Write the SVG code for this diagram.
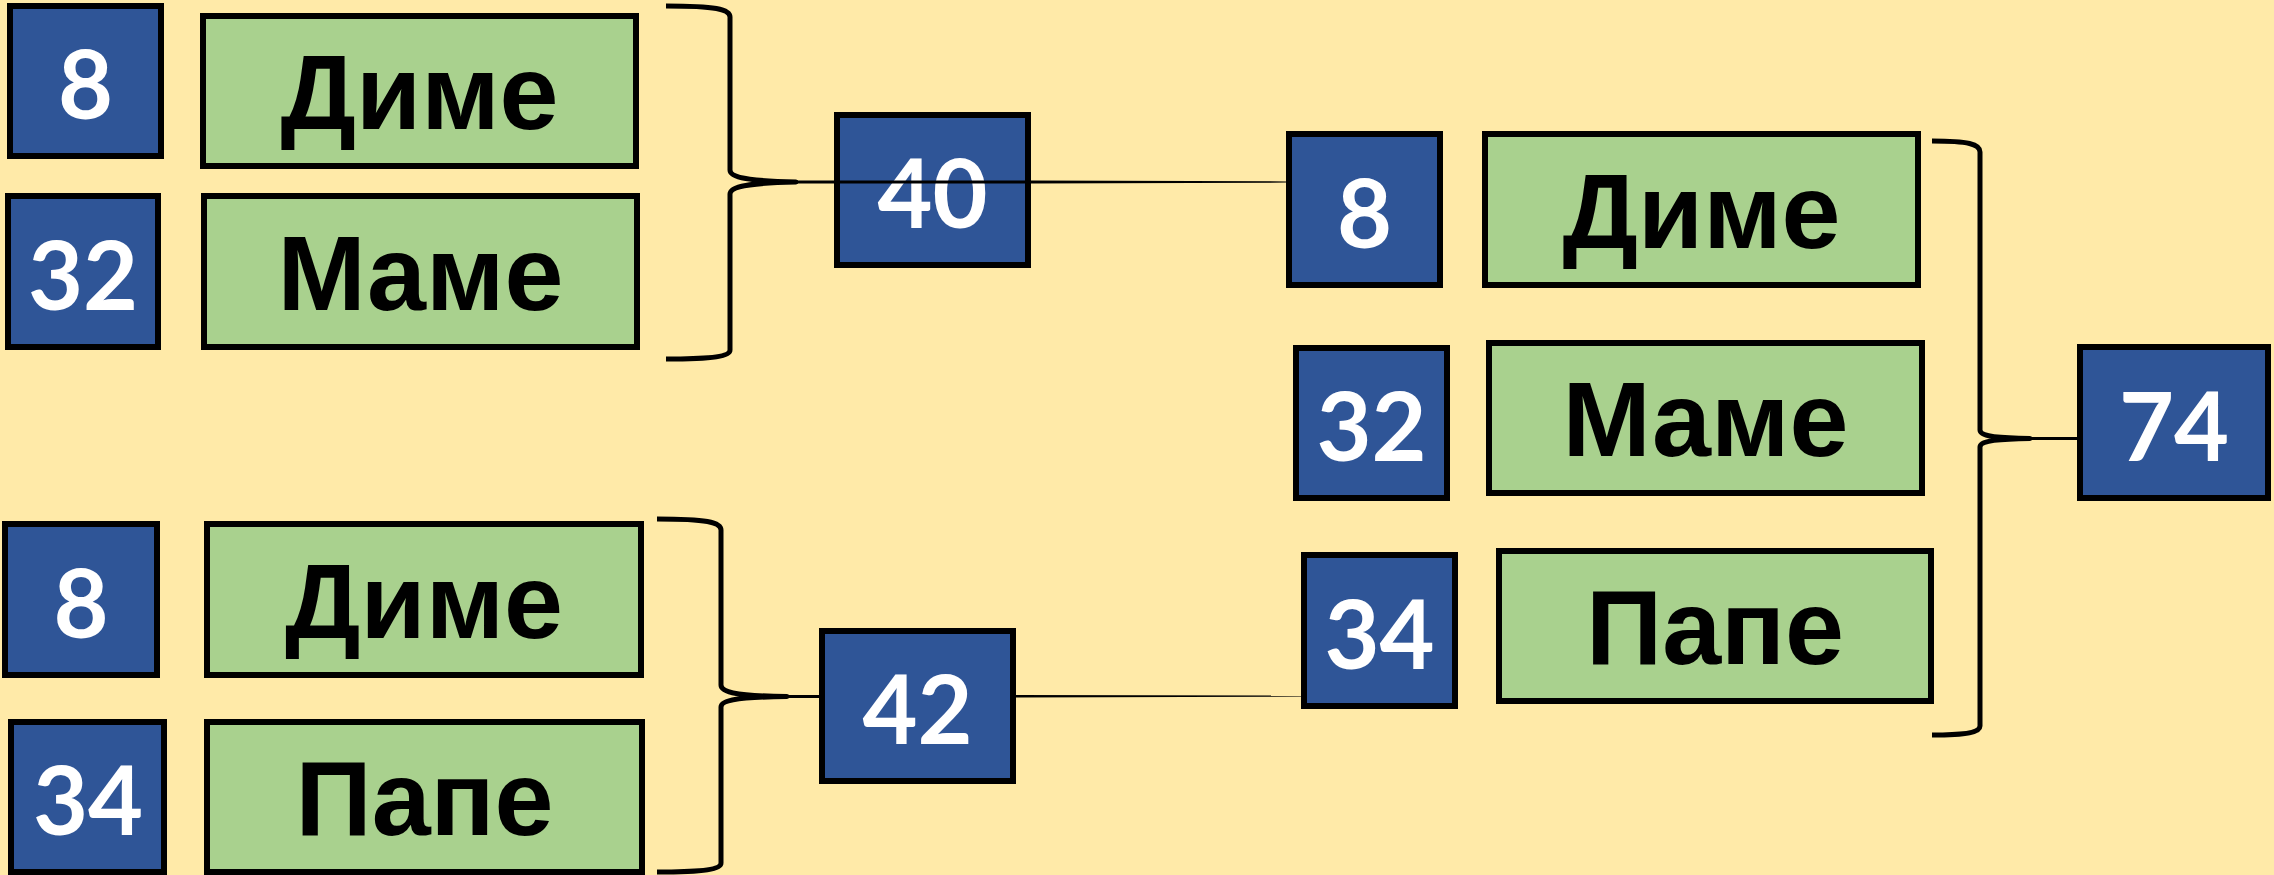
<svg xmlns="http://www.w3.org/2000/svg" width="2274" height="875" viewBox="0 0 2274 875">
<style>
.b{fill:#2F5597;stroke:#000;stroke-width:6}
.g{fill:#A9D18E;stroke:#000;stroke-width:6}
.n{font-family:Lato,"Open Sans","Liberation Sans",sans-serif;font-weight:700;font-size:95px;fill:#fff;text-anchor:middle}
.t{font-family:"Liberation Sans",Arial,sans-serif;font-weight:700;font-size:106px;fill:#000;text-anchor:middle}
.br{fill:none;stroke:#000;stroke-width:5;stroke-linejoin:round}
</style>
<rect x="0" y="0" width="2274" height="875" fill="#FFEAA8"/>
<g id="n8a"><rect class="b" x="10" y="6" width="151" height="150"/><text class="n" x="85.5" y="119">8</text></g>
<g id="dimeA"><rect class="g" x="203" y="16" width="433" height="150"/><text class="t" x="419.5" y="129">Диме</text></g>
<g id="n32a"><rect class="b" x="8" y="196" width="150" height="151"/><text class="n" x="83" y="309.5">32</text></g>
<g id="mameA"><rect class="g" x="204" y="196" width="433" height="151"/><text class="t" x="420.5" y="310">Маме</text></g>
<g id="n40"><rect class="b" x="837" y="115" width="191" height="150"/><text class="n" x="932.5" y="228">40</text></g>
<g id="n8c"><rect class="b" x="5" y="524" width="152" height="151"/><text class="n" x="81" y="637.5">8</text></g>
<g id="dimeC"><rect class="g" x="207" y="524" width="434" height="151"/><text class="t" x="424" y="637.5">Диме</text></g>
<g id="n34c"><rect class="b" x="11" y="722" width="153" height="150"/><text class="n" x="88" y="835">34</text></g>
<g id="papeC"><rect class="g" x="207" y="722" width="435" height="150"/><text class="t" x="424.5" y="835">Папе</text></g>
<g id="n42"><rect class="b" x="822" y="631" width="191" height="150"/><text class="n" x="917.5" y="744">42</text></g>
<g id="n8b"><rect class="b" x="1289" y="134" width="151" height="151"/><text class="n" x="1364.5" y="247.5">8</text></g>
<g id="dimeB"><rect class="g" x="1485" y="134" width="433" height="151"/><text class="t" x="1701.5" y="247.5">Диме</text></g>
<g id="n32b"><rect class="b" x="1296" y="348" width="151" height="150"/><text class="n" x="1371.5" y="461">32</text></g>
<g id="mameB"><rect class="g" x="1489" y="343" width="433" height="150"/><text class="t" x="1705.5" y="456">Маме</text></g>
<g id="n34b"><rect class="b" x="1304" y="555" width="151" height="151"/><text class="n" x="1379.5" y="668.5">34</text></g>
<g id="papeB"><rect class="g" x="1499" y="551" width="432" height="150"/><text class="t" x="1715" y="664">Папе</text></g>
<g id="n74"><rect class="b" x="2080" y="347" width="188" height="151"/><text class="n" x="2174" y="460.5">74</text></g>
<g id="connectors">
<path class="br" d="M666,6 C715,6 730,9 730,17 L730,170 C730,178 750,181 796,182 C750,183 730,186 730,194 L730,350 C730,356 715,359 666,359"/>
<polygon points="790,180.5 1031,180.5 1286,181.4 1286,182.6 1031,183.5 790,183.5" fill="#000"/>
<path class="br" d="M657,519 C706,519 721,522 721,530 L721,685 C721,693 740,696 787,696.5 C740,697 721,700 721,707 L721,863 C721,869 706,872 657,872"/>
<line x1="785" y1="696.5" x2="822" y2="696.5" stroke="#000" stroke-width="3"/>
<polygon points="1013,695 1301,695.6 1301,696.6 1013,697.5" fill="#000"/>
<path class="br" d="M1932,141 C1968,141 1980,144 1980,152 L1980,430 C1980,436 1995,438 2030,438.5 C1995,439 1980,441 1980,447 L1980,726 C1980,732 1968,735 1932,735"/>
<line x1="2028" y1="438.5" x2="2080" y2="438.5" stroke="#000" stroke-width="3"/>
</g>
</svg>
